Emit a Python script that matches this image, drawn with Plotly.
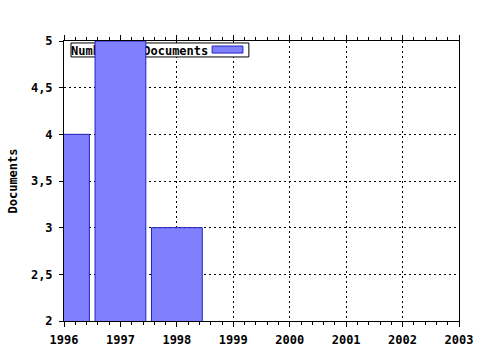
import plotly.graph_objects as go

years = [1996, 1997, 1998]
documents = [4, 5, 3]
series_name = "Number of Documents"
y_title = "Documents"
x_range = [1996, 2003]
y_range = [2, 5]

font_main = dict(family="DejaVu Sans Mono", size=12, color="black", weight="bold")

def xd(f):
    return x_range[0] + f * (x_range[1] - x_range[0])

def yd(f):
    return y_range[0] + f * (y_range[1] - y_range[0])

fig = go.Figure()
fig.add_trace(go.Bar(
    x=years, y=documents, name=series_name, width=0.9,
    marker=dict(color="#8080ff", line=dict(color="#2020c0", width=1)),
    showlegend=False,
))

# legend-like box drawn between gridlines and bars (bars overlap it as in the reference)
fig.add_shape(type="rect", xref="x", yref="y",
              x0=xd(0.0177), x1=xd(0.468), y0=yd(0.943), y1=yd(0.993), layer="between",
              fillcolor="white", line=dict(color="black", width=1))
fig.add_shape(type="rect", xref="x", yref="y",
              x0=xd(0.375), x1=xd(0.453), y0=yd(0.957), y1=yd(0.982), layer="between",
              fillcolor="#8080ff", line=dict(color="#2020c0", width=1))
fig.add_shape(type="line", xref="x", yref="y",
              x0=xd(0.0177), x1=xd(0.02), y0=yd(0.968), y1=yd(0.968), layer="between",
              line=dict(color="rgba(0,0,0,0)", width=0),
              label=dict(text=series_name, textposition="start", xanchor="left",
                         yanchor="middle", font=font_main, padding=2))

fig.update_layout(
    width=480, height=350,
    margin=dict(l=64, r=21, t=41, b=29),
    paper_bgcolor="white", plot_bgcolor="white",
    separators=",.",
    font=font_main,
    bargap=0.1,
)
fig.update_xaxes(
    range=x_range, dtick=1, tick0=1996, automargin=False,
    showline=True, linecolor="black", linewidth=1, mirror="ticks",
    ticks="outside", ticklen=5, tickcolor="black", ticklabelstandoff=3,
    minor=dict(dtick=0.2, ticks="outside", ticklen=3, tickcolor="black", showgrid=False),
    showgrid=True, gridcolor="black", gridwidth=1, griddash="2px,3px",
    tickfont=font_main, zeroline=False,
)
fig.update_yaxes(
    range=y_range, dtick=0.5, tick0=2, automargin=False,
    showline=True, linecolor="black", linewidth=1, mirror=True,
    ticks="outside", ticklen=4, tickcolor="black", ticklabelstandoff=4,
    showgrid=True, gridcolor="black", gridwidth=1, griddash="2px,3px",
    tickfont=font_main, zeroline=False,
    title=dict(text=y_title, font=font_main, standoff=10),
)

fig.write_html("out.html")
